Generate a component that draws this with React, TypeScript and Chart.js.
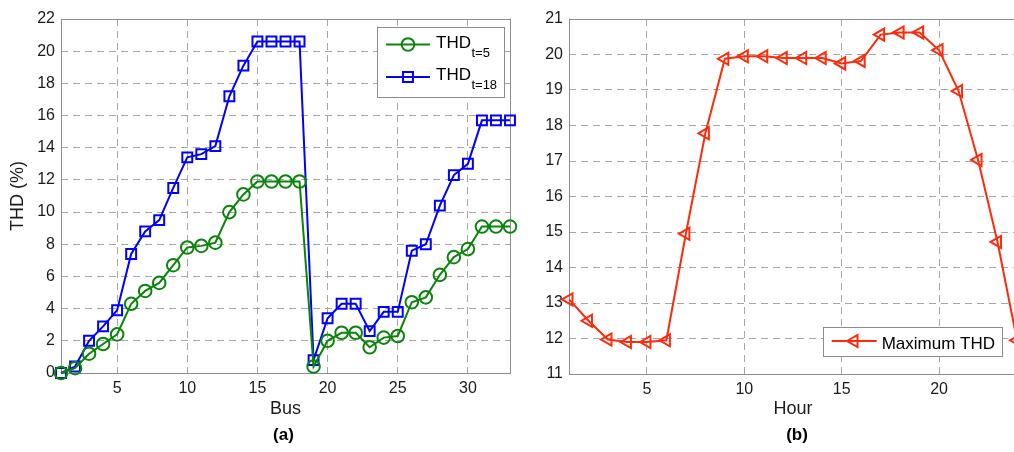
import { useEffect, useRef } from "react";
import { Chart, registerables } from "chart.js";

Chart.register(...registerables);

const FONT = '"Liberation Sans", Arial, Helvetica, sans-serif';

// ---------- Panel (a): THD per bus ----------
const BUSES = [1, 2, 3, 4, 5, 6, 7, 8, 9, 10, 11, 12, 13, 14, 15, 16, 17, 18, 19, 20, 21, 22, 23, 24, 25, 26, 27, 28, 29, 30, 31, 32, 33];
const THD_T5 = [0, 0.3, 1.2, 1.8, 2.4, 4.3, 5.1, 5.6, 6.7, 7.8, 7.9, 8.1, 10.0, 11.1, 11.9, 11.9, 11.9, 11.9, 0.4, 2.0, 2.5, 2.5, 1.6, 2.2, 2.3, 4.4, 4.7, 6.1, 7.2, 7.7, 9.1, 9.1, 9.1];
const THD_T18 = [0, 0.4, 2.0, 2.9, 3.9, 7.4, 8.8, 9.5, 11.5, 13.4, 13.6, 14.1, 17.2, 19.1, 20.6, 20.6, 20.6, 20.6, 0.8, 3.4, 4.3, 4.3, 2.6, 3.8, 3.8, 7.6, 8.0, 10.4, 12.3, 13.0, 15.7, 15.7, 15.7];
const SERIES_A_NAMES = ["THD", "THD"];
const SERIES_A_SUBS = ["t=5", "t=18"];
const BUS_TICKS = [5, 10, 15, 20, 25, 30];
const THD_TICKS = [0, 2, 4, 6, 8, 10, 12, 14, 16, 18, 20, 22];
const BUS_RANGE = [1, 33];
const THD_RANGE = [0, 22];
const TITLE_A_X = "Bus";
const TITLE_A_Y = "THD (%)";
const CAPTION_A = "(a)";

// ---------- Panel (b): maximum THD per hour ----------
const HOURS = [1, 2, 3, 4, 5, 6, 7, 8, 9, 10, 11, 12, 13, 14, 15, 16, 17, 18, 19, 20, 21, 22, 23, 24];
const MAX_THD = [13.1, 12.5, 11.97, 11.9, 11.9, 11.95, 14.95, 17.78, 19.88, 19.95, 19.95, 19.9, 19.9, 19.9, 19.75, 19.82, 20.56, 20.62, 20.62, 20.12, 18.97, 17.03, 14.72, 11.95];
const SERIES_B_NAME = "Maximum THD";
const HOUR_TICKS = [5, 10, 15, 20];
const MAXTHD_TICKS = [11, 12, 13, 14, 15, 16, 17, 18, 19, 20, 21];
const HOUR_RANGE = [1, 24];
const MAXTHD_RANGE = [11, 21];
const TITLE_B_X = "Hour";
const CAPTION_B = "(b)";

const GREEN = "#0b840b";
const BLUE = "#0000ff";
const RED = "#ff2a0a";
const GRID = "#a6a6a6";
const FRAME = "#8c8c8c";
const TEXT = "#1a1a1a";

function drawMarker(ctx: CanvasRenderingContext2D, style: string, x: number, y: number, r: number, rot: number) {
  ctx.beginPath();
  if (style === "circle") {
    ctx.arc(x, y, r, 0, Math.PI * 2);
  } else if (style === "rect") {
    const s = r * Math.SQRT1_2;
    ctx.rect(x - s, y - s, 2 * s, 2 * s);
  } else {
    let a = (rot * Math.PI) / 180;
    ctx.moveTo(x + Math.sin(a) * r, y - Math.cos(a) * r);
    a += (2 * Math.PI) / 3;
    ctx.lineTo(x + Math.sin(a) * r, y - Math.cos(a) * r);
    a += (2 * Math.PI) / 3;
    ctx.lineTo(x + Math.sin(a) * r, y - Math.cos(a) * r);
    ctx.closePath();
  }
  ctx.stroke();
}

const framePlugin = {
  id: "frame",
  beforeDatasetsDraw(chart: any) {
    const { ctx, chartArea: a } = chart;
    ctx.save();
    ctx.strokeStyle = FRAME;
    ctx.lineWidth = 1;
    ctx.setLineDash([]);
    ctx.strokeRect(Math.round(a.left) + 0.5, Math.round(a.top) + 0.5, Math.round(a.right - a.left), Math.round(a.bottom - a.top));
    ctx.restore();
  },
};

type LegendCfg = {
  box: [number, number, number, number];
  lineX: [number, number];
  markerX: number;
  textX: number;
  rows: { lineY: number; baseY: number; subBaseY?: number }[];
  names: string[];
  subs?: string[];
};

function makeLegend(id: string, cfg: LegendCfg) {
  return {
    id,
    afterDraw(chart: any) {
      const ctx: CanvasRenderingContext2D = chart.ctx;
      const [bx, by, bw, bh] = cfg.box;
      ctx.save();
      ctx.setLineDash([]);
      ctx.fillStyle = "#ffffff";
      ctx.fillRect(bx, by, bw, bh);
      ctx.strokeStyle = FRAME;
      ctx.lineWidth = 1;
      ctx.strokeRect(bx + 0.5, by + 0.5, bw, bh);
      chart.data.datasets.forEach((ds: any, i: number) => {
        const row = cfg.rows[i];
        ctx.strokeStyle = ds.borderColor;
        ctx.lineWidth = ds.borderWidth;
        ctx.beginPath();
        ctx.moveTo(cfg.lineX[0], row.lineY);
        ctx.lineTo(cfg.lineX[1], row.lineY);
        ctx.stroke();
        ctx.lineWidth = ds.pointBorderWidth;
        drawMarker(ctx, ds.pointStyle, cfg.markerX, row.lineY, ds.pointRadius, ds.pointRotation || 0);
        ctx.fillStyle = "#000";
        ctx.textAlign = "left";
        ctx.textBaseline = "alphabetic";
        ctx.font = `17px ${FONT}`;
        const name = cfg.names[i];
        ctx.fillText(name, cfg.textX, row.baseY);
        if (cfg.subs && cfg.subs[i]) {
          const w = ctx.measureText(name).width;
          ctx.font = `13px ${FONT}`;
          ctx.fillText(cfg.subs[i], cfg.textX + w + 0.5, row.subBaseY || row.baseY);
        }
      });
      ctx.restore();
    },
  };
}

function makeCaption(text: string, dx: number, y: number) {
  return {
    id: "caption",
    afterDraw(chart: any) {
      const { ctx, chartArea: a } = chart;
      ctx.save();
      ctx.fillStyle = "#000";
      ctx.font = `bold 17px ${FONT}`;
      ctx.textAlign = "center";
      ctx.textBaseline = "middle";
      ctx.fillText(text, (a.left + a.right) / 2 + dx, y);
      ctx.restore();
    },
  };
}

function axis(range: number[], ticks: number[], size: { w?: number; h?: number }, title?: any) {
  return {
    type: "linear",
    min: range[0],
    max: range[1],
    afterBuildTicks: (s: any) => {
      s.ticks = ticks.map((v) => ({ value: v }));
    },
    afterFit: (s: any) => {
      if (size.w !== undefined) s.width = size.w;
      if (size.h !== undefined) s.height = size.h;
    },
    grid: { color: GRID, lineWidth: 1, drawTicks: false },
    border: { display: false, dash: [7, 5] },
    ticks: { font: { family: FONT, size: 16 }, color: TEXT, padding: 6, autoSkip: false, maxRotation: 0 },
    title: title || { display: false },
  };
}

function pts(xs: number[], ys: number[]) {
  return xs.map((x, i) => ({ x, y: ys[i] }));
}

function PanelA() {
  const ref = useRef<HTMLCanvasElement>(null);
  useEffect(() => {
    const chart = new Chart(ref.current as HTMLCanvasElement, {
      type: "line",
      data: {
        datasets: [
          {
            label: SERIES_A_NAMES[0] + SERIES_A_SUBS[0],
            data: pts(BUSES, THD_T5),
            borderColor: GREEN,
            backgroundColor: "rgba(0,0,0,0)",
            borderWidth: 2,
            pointStyle: "circle",
            pointRadius: 6.3,
            pointBorderWidth: 2,
            pointBorderColor: GREEN,
            pointBackgroundColor: "rgba(0,0,0,0)",
            clip: false,
            tension: 0,
          },
          {
            label: SERIES_A_NAMES[1] + SERIES_A_SUBS[1],
            data: pts(BUSES, THD_T18),
            borderColor: BLUE,
            backgroundColor: "rgba(0,0,0,0)",
            borderWidth: 2,
            pointStyle: "rect",
            pointRadius: 7,
            pointBorderWidth: 2,
            pointBorderColor: BLUE,
            pointBackgroundColor: "rgba(0,0,0,0)",
            clip: false,
            tension: 0,
          },
        ],
      },
      options: {
        animation: false,
        responsive: false,
        devicePixelRatio: 1,
        layout: { padding: { top: 19, left: 0, right: 20, bottom: 0 } },
        plugins: { legend: { display: false }, tooltip: { enabled: false } },
        scales: {
          x: axis(BUS_RANGE, BUS_TICKS, { h: 79 }, {
            display: true,
            text: TITLE_A_X,
            font: { family: FONT, size: 18 },
            color: TEXT,
            padding: { top: 0, bottom: 32 },
          }),
          y: axis(THD_RANGE, THD_TICKS, { w: 61 }, {
            display: true,
            text: TITLE_A_Y,
            font: { family: FONT, size: 18 },
            color: TEXT,
            padding: { top: 7, bottom: 0 },
          }),
        } as any,
      },
      plugins: [
        framePlugin,
        makeLegend("legendA", {
          box: [377, 27, 127, 70],
          lineX: [386, 430],
          markerX: 408,
          textX: 436,
          rows: [
            { lineY: 44.5, baseY: 47.5, subBaseY: 56.5 },
            { lineY: 77, baseY: 80, subBaseY: 88.5 },
          ],
          names: SERIES_A_NAMES,
          subs: SERIES_A_SUBS,
        }),
        makeCaption(CAPTION_A, -2, 435),
      ],
    } as any);
    return () => chart.destroy();
  }, []);
  return <canvas ref={ref} width={530} height={452} style={{ position: "absolute", left: 0, top: 0, width: 530, height: 452 }} />;
}

function PanelB() {
  const ref = useRef<HTMLCanvasElement>(null);
  useEffect(() => {
    const chart = new Chart(ref.current as HTMLCanvasElement, {
      type: "line",
      data: {
        datasets: [
          {
            label: SERIES_B_NAME,
            data: pts(HOURS, MAX_THD),
            borderColor: RED,
            backgroundColor: "rgba(0,0,0,0)",
            borderWidth: 2,
            pointStyle: "triangle",
            pointRotation: -90,
            pointRadius: 7,
            pointBorderWidth: 2,
            pointBorderColor: RED,
            pointBackgroundColor: "rgba(0,0,0,0)",
            clip: false,
            tension: 0,
          },
        ],
      },
      options: {
        animation: false,
        responsive: false,
        devicePixelRatio: 1,
        layout: { padding: { top: 19, left: 0, right: 43, bottom: 0 } },
        plugins: { legend: { display: false }, tooltip: { enabled: false } },
        scales: {
          x: axis(HOUR_RANGE, HOUR_TICKS, { h: 78 }, {
            display: true,
            text: TITLE_B_X,
            font: { family: FONT, size: 18 },
            color: TEXT,
            padding: { top: 0, bottom: 32 },
          }),
          y: axis(MAXTHD_RANGE, MAXTHD_TICKS, { w: 49 }),
        } as any,
      },
      plugins: [
        framePlugin,
        makeLegend("legendB", {
          box: [303, 327, 179, 29],
          lineX: [311.7, 356.7],
          markerX: 334,
          textX: 361.7,
          rows: [{ lineY: 341, baseY: 348.5 }],
          names: [SERIES_B_NAME],
        }),
        makeCaption(CAPTION_B, 4, 435),
      ],
    } as any);
    return () => chart.destroy();
  }, []);
  return <canvas ref={ref} width={540} height={452} style={{ position: "absolute", left: 520, top: 0, width: 540, height: 452 }} />;
}

export default function App() {
  return (
    <div style={{ position: "fixed", left: 0, top: 0, width: 1014, height: 452, overflow: "hidden", background: "#fff" }}>
      <PanelA />
      <PanelB />
    </div>
  );
}
